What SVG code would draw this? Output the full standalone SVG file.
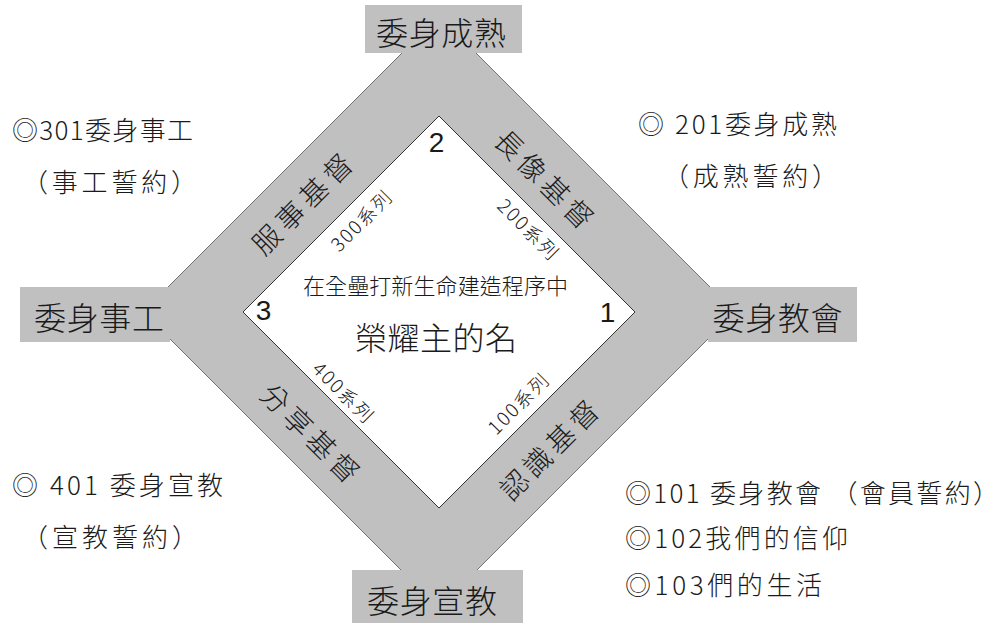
<svg xmlns="http://www.w3.org/2000/svg" width="1006" height="623" viewBox="0 0 1006 623">
<style>
.cjk{font-family:"Noto Sans CJK TC","Noto Sans CJK SC",sans-serif;fill:#1a1a1a;font-weight:300;}
.num{font-family:"Liberation Sans",Arial,sans-serif;fill:#1a1a1a;}
.box{fill:#c0c0c0;}
.side{font-size:26px;}
.band{font-size:28px;}
.ser{font-size:19px;}
</style>
<rect width="1006" height="623" fill="#ffffff"/>
<g id="connectors">
<polygon points="439,16 735,312 439,608 143,312" fill="#c0c0c0" stroke="#555" stroke-width="0.8"/>
<polygon points="439,116 635,312 439,508 243,312" fill="#ffffff" stroke="#333" stroke-width="1"/>
<text class="cjk band" x="301" y="203" text-anchor="middle" dominant-baseline="central" textLength="128" transform="rotate(-45 301 203)">服事基督</text>
<text class="cjk band" x="545" y="178" text-anchor="middle" dominant-baseline="central" textLength="126" transform="rotate(45 545 178)">長像基督</text>
<text class="cjk band" x="311" y="432" text-anchor="middle" dominant-baseline="central" textLength="126" transform="rotate(45 311 432)">分享基督</text>
<text class="cjk band" x="548" y="449" text-anchor="middle" dominant-baseline="central" textLength="126" transform="rotate(-45 548 449)">認識基督</text>
<text class="cjk ser" x="360" y="220" text-anchor="middle" dominant-baseline="central" textLength="76" transform="rotate(-45 360 220)">300系列</text>
<text class="cjk ser" x="529" y="228" text-anchor="middle" dominant-baseline="central" textLength="76" transform="rotate(45 529 228)">200系列</text>
<text class="cjk ser" x="344" y="391" text-anchor="middle" dominant-baseline="central" textLength="76" transform="rotate(45 344 391)">400系列</text>
<text class="cjk ser" x="517" y="403" text-anchor="middle" dominant-baseline="central" textLength="76" transform="rotate(-45 517 403)">100系列</text>
</g>
<g id="node-top">
<rect class="box" x="365" y="5" width="157" height="48"/>
<text class="cjk" x="441" y="45" font-size="32" text-anchor="middle" textLength="130">委身成熟</text>
</g>
<g id="node-left">
<rect class="box" x="20" y="287" width="150" height="55"/>
<text class="cjk" x="99" y="330" font-size="32" text-anchor="middle" textLength="130">委身事工</text>
</g>
<g id="node-right">
<rect class="box" x="708" y="287" width="149" height="55"/>
<text class="cjk" x="777.5" y="330" font-size="32" text-anchor="middle" textLength="130">委身教會</text>
</g>
<g id="node-bottom">
<rect class="box" x="352" y="570" width="171" height="53"/>
<text class="cjk" x="432" y="613" font-size="32" text-anchor="middle" textLength="130">委身宣教</text>
</g>
<g id="node-center">
<text class="cjk" x="435.5" y="294" font-size="22" text-anchor="middle" textLength="265">在全壘打新生命建造程序中</text>
<text class="cjk" x="436" y="350" font-size="32" text-anchor="middle" textLength="162">榮耀主的名</text>
<text class="num" x="436.5" y="152" font-size="28" text-anchor="middle">2</text>
<text class="num" x="263.5" y="320" font-size="28" text-anchor="middle">3</text>
<text class="num" x="607.5" y="322" font-size="28" text-anchor="middle">1</text>
</g>
<g id="note-301">
<text class="cjk side" x="12" y="140" textLength="181">◎301委身事工</text>
<text class="cjk side" x="22" y="192" textLength="175">（事工誓約）</text>
</g>
<g id="note-201">
<text class="cjk side" x="638" y="134" textLength="199">◎ 201委身成熟</text>
<text class="cjk side" x="663" y="186" textLength="175">（成熟誓約）</text>
</g>
<g id="note-401">
<text class="cjk side" x="12" y="495" textLength="211">◎ 401 委身宣教</text>
<text class="cjk side" x="22" y="547" textLength="176">（宣教誓約）</text>
</g>
<g id="note-101">
<text class="cjk side" x="625" y="503" textLength="374">◎101 委身教會 （會員誓約）</text>
<text class="cjk side" x="625" y="548" textLength="223">◎102我們的信仰</text>
<text class="cjk side" x="625" y="595" textLength="197">◎103們的生活</text>
</g>
</svg>
